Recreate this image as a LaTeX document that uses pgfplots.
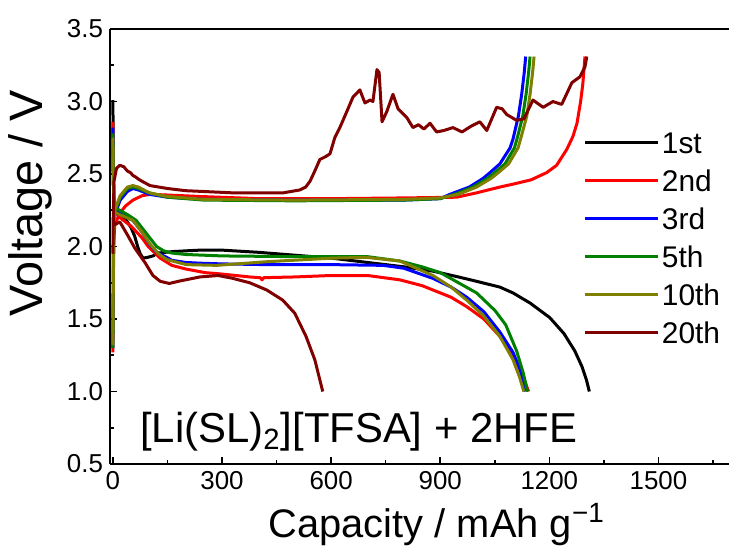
\documentclass[border=0pt]{standalone}
\usepackage{fontspec}
\setmainfont{Liberation Sans}
\usepackage{pgfplots}
\pgfplotsset{compat=1.18}

\definecolor{cGreen}{RGB}{0,128,0}
\definecolor{cOlive}{RGB}{128,128,0}
\definecolor{cMaroon}{RGB}{128,0,0}

\begin{document}
\begin{tikzpicture}
\begin{axis}[
  name=ax,
  scale only axis,
  width=309.5bp, height=217.5bp,
  xmin=-8, xmax=1694, ymin=0.5, ymax=3.5,
  axis x line*=box, axis y line*=left,
  xtick={0,300,...,1500}, ytick={0.5,1.0,...,3.5},
  minor xtick={150,450,...,1650}, minor ytick={0.75,1.25,...,3.25},
  xtick pos=left, ytick pos=left,
  tick align=inside,
  major tick length=3.5bp, minor tick length=2bp,
  axis line style={line width=1bp},
  every tick/.style={black, line width=0.8bp},
  /pgf/number format/assume math mode=true,
  tick label style={font=\fontsize{13}{13}\selectfont},
  xticklabel style={/pgf/number format/set thousands separator={}},
  yticklabel style={/pgf/number format/.cd, fixed, fixed zerofill, precision=1},
  xlabel={Capacity / mAh g\textsuperscript{−1}},
  ylabel={Voltage / V},
  every axis x label/.style={at={(rel axis cs:0.528,-0.168)}, anchor=base, font=\fontsize{20}{20}\selectfont},
  every axis y label/.style={at={(rel axis cs:-0.129,0.6)}, anchor=center, rotate=90, font=\fontsize{23.5}{23.5}\selectfont},
  legend style={at={(rel axis cs:0.765,0.77)}, anchor=north west, draw=none, fill=none,
    font=\fontsize{15}{15}\selectfont, inner sep=0pt, row sep=6bp,
    nodes={inner sep=1bp, text height=11bp, text depth=0pt}},
  legend cell align=left,
  legend image code/.code={\draw[#1] (0bp,0bp) -- (36.5bp,0bp);},
  every axis plot/.append style={line width=1.5bp, line join=round},
]
% 1st
\addplot[black] coordinates {
 (0,3.01) (1,2.6) (3,2.25) (15,2.22) (37,2.18) (50,2.13) (60,2.07) (68,2.0) (75,1.95)
 (83,1.92) (95,1.925) (110,1.935) (124,1.955) (165,1.965) (200,1.97) (240,1.975) (300,1.975)
 (400,1.96) (500,1.94) (600,1.92) (700,1.89) (800,1.86) (880,1.83) (950,1.79) (1000,1.76)
 (1064,1.72) (1100,1.68) (1147,1.61) (1201,1.51) (1240,1.40) (1270,1.28) (1290,1.17)
 (1302,1.08) (1310,1.0)};
\addlegendentry{1st}
% 2nd
\addplot[red] coordinates {
 (0,2.86) (1,2.5) (3,2.25) (19,2.2) (50,2.14) (80,2.06) (97,2.0) (130,1.92) (162,1.87)
 (200,1.845) (253,1.82) (300,1.81) (376,1.79) (405,1.785) (410,1.77) (415,1.785) (500,1.79)
 (600,1.8) (700,1.8) (789,1.77) (850,1.73) (880,1.70) (930,1.65) (973,1.585) (1020,1.5)
 (1064,1.38) (1100,1.25) (1125,1.12) (1143,1.0)};
\addlegendentry{2nd}
\addplot[red, forget plot] coordinates {
 (0,1.27) (1,1.6) (2,2.0) (5,2.15) (19,2.23) (35,2.28) (55,2.32) (80,2.35) (102,2.36)
 (150,2.355) (239,2.345) (400,2.33) (600,2.33) (800,2.335) (945,2.34) (1000,2.37)
 (1064,2.41) (1100,2.43) (1150,2.46) (1193,2.51) (1220,2.56) (1248,2.67) (1265,2.76)
 (1276,2.85) (1286,3.0) (1292,3.12) (1298,3.31)};
% 3rd
\addplot[blue] coordinates {
 (0,2.82) (1,2.5) (3,2.25) (19,2.23) (55,2.18) (80,2.1) (100,2.02) (120,1.96) (148,1.925)
 (162,1.905) (200,1.89) (239,1.885) (300,1.88) (423,1.875) (600,1.875) (743,1.87) (800,1.85)
 (880,1.78) (930,1.72) (973,1.65) (1020,1.55) (1064,1.41) (1100,1.27) (1120,1.15) (1134,1.0)};
\addlegendentry{3rd}
\addplot[blue, forget plot] coordinates {
 (0,1.3) (1,1.7) (2,2.1) (5,2.22) (20,2.32) (40,2.38) (55,2.40) (70,2.39) (100,2.36)
 (150,2.34) (250,2.325) (500,2.32) (800,2.32) (900,2.33) (927,2.36) (980,2.41) (1018,2.47)
 (1037,2.51) (1064,2.57) (1092,2.68) (1100,2.74) (1115,2.9) (1124,3.05) (1131,3.2) (1135,3.31)};
% 5th
\addplot[cGreen] coordinates {
 (0,2.78) (1,2.5) (3,2.27) (19,2.25) (40,2.22) (64,2.18) (92,2.09) (120,2.0) (140,1.97)
 (162,1.955) (200,1.945) (300,1.935) (500,1.93) (700,1.93) (789,1.9) (850,1.86) (900,1.82)
 (950,1.75) (1000,1.68) (1050,1.56) (1080,1.46) (1110,1.28) (1128,1.13) (1140,1.0)};
\addlegendentry{5th}
\addplot[cGreen, forget plot] coordinates {
 (0,1.3) (1,1.7) (2,2.1) (5,2.24) (20,2.34) (40,2.40) (55,2.41) (70,2.40) (100,2.37)
 (150,2.34) (250,2.32) (500,2.315) (800,2.32) (900,2.33) (940,2.36) (990,2.41) (1030,2.47)
 (1050,2.51) (1078,2.57) (1104,2.68) (1113,2.76) (1127,2.9) (1136,3.05) (1143,3.2) (1147,3.31)};
% 10th
\addplot[cOlive] coordinates {
 (0,2.75) (1,2.5) (3,2.24) (19,2.22) (55,2.18) (80,2.1) (101,2.02) (125,1.95) (148,1.91)
 (202,1.875) (285,1.87) (423,1.895) (605,1.92) (697,1.925) (789,1.9) (880,1.8) (930,1.72)
 (973,1.63) (1020,1.52) (1064,1.38) (1100,1.22) (1118,1.1) (1130,1.0)};
\addlegendentry{10th}
\addplot[cOlive, forget plot] coordinates {
 (0,1.32) (1,1.7) (2,2.1) (5,2.25) (20,2.35) (40,2.41) (55,2.42) (70,2.41) (100,2.37)
 (150,2.345) (250,2.325) (500,2.32) (800,2.325) (900,2.335) (950,2.36) (1000,2.41) (1040,2.47)
 (1060,2.51) (1088,2.57) (1114,2.68) (1123,2.76) (1138,2.9) (1147,3.05) (1154,3.2) (1158,3.31)};
% 20th
\addplot[cMaroon] coordinates {
 (0,2.2) (5,2.15) (19,2.17) (40,2.08) (60,1.99) (88,1.89) (110,1.80) (130,1.76) (155,1.745)
 (180,1.76) (239,1.79) (290,1.80) (330,1.78) (376,1.75) (423,1.70) (467,1.63) (500,1.54)
 (531,1.38) (555,1.22) (577,1.0)};
\addlegendentry{20th}
\addplot[cMaroon, forget plot] coordinates {
 (0,1.95) (1,2.2) (3,2.45) (10,2.54) (19,2.56) (30,2.55) (40,2.52) (48,2.51) (55,2.49)
 (62,2.48) (70,2.465) (80,2.45) (102,2.42) (150,2.40) (200,2.385) (330,2.37) (468,2.37)
 (514,2.39) (530,2.41) (542,2.45) (555,2.52) (569,2.60) (585,2.62) (597,2.64) (610,2.75)
 (624,2.82) (643,2.93) (660,3.03) (679,3.08) (693,2.99) (707,3.01) (715,3.0) (726,3.22)
 (732,3.2) (740,2.86) (753,2.93) (770,3.05) (784,2.95) (808,2.89) (825,2.82) (840,2.84)
 (855,2.81) (872,2.85) (890,2.79) (910,2.80) (935,2.82) (960,2.79) (985,2.83) (1009,2.86)
 (1028,2.80) (1055,2.96) (1070,2.95) (1083,2.91) (1110,2.87) (1130,2.88) (1155,3.01)
 (1183,2.96) (1210,3.0) (1234,2.98) (1262,3.13) (1284,3.17) (1298,3.24) (1303,3.31)};

\node[anchor=base west, inner sep=0pt, font=\fontsize{21}{21}\selectfont]
  at (axis cs:74,0.645) {[Li(SL)\textsubscript{2}][TFSA] + 2HFE};
\end{axis}
\pgfresetboundingbox
\path[use as bounding box] ([shift={(-55bp,-41.5bp)}]ax.south west)
  rectangle ([shift={(0bp,14.5bp)}]ax.north east);
\end{tikzpicture}
\end{document}
